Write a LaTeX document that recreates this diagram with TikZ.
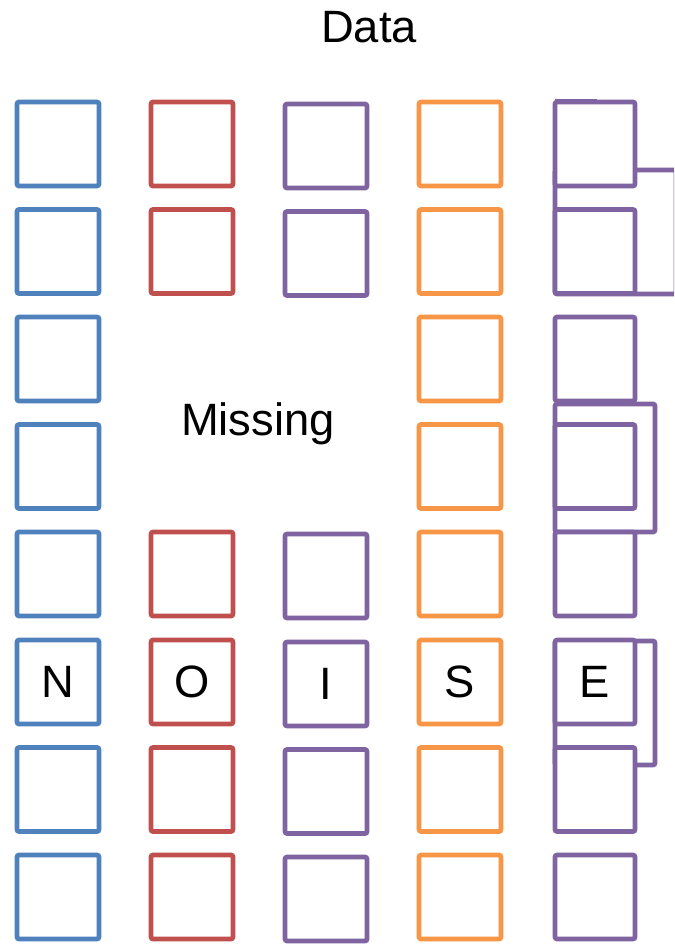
\documentclass[tikz,border=0pt]{standalone}
\usepackage{fontspec}
\setmainfont{Liberation Sans}
\usepackage{tikz}

\definecolor{cblue}{HTML}{4F81BD}
\definecolor{cred}{HTML}{C0504D}
\definecolor{cpurple}{HTML}{8064A2}
\definecolor{corange}{HTML}{F79646}

\tikzset{
  cell/.style={draw=#1, fill=white, line width=3.5pt, rounded corners=1.5pt, inner sep=0pt,
    minimum width=61.5pt, minimum height=63pt, font=\fontsize{34}{40}\selectfont},
  lastcell/.style={cell=cpurple, minimum width=60pt},
  bracket/.style={draw=cpurple, line width=3.5pt, rounded corners=1.5pt},
  label/.style={font=\fontsize{34}{40}\selectfont, inner sep=0pt},
}

\begin{document}
\begin{tikzpicture}[x=0.75pt, y=-0.75pt]
\clip (0,0) rectangle (674,944);
\fill[white] (0,0) rectangle (674,944);

% title
\node[label, anchor=base] (data) at (369,43) {Data};

% brackets of the last column (behind the cells)
\draw[bracket] (555,170) rectangle (676,294);
\draw[bracket] (555,404) rectangle (655,532);
\draw[bracket] (555,641) rectangle (655,765);

% columns of cells
\foreach \c/\x/\dy/\col/\txt in {1/58/0/cblue/N, 2/192/0/cred/O, 3/326/2/cpurple/I, 4/460/0/corange/S}{
  \foreach \r/\y in {1/144, 2/251.5, 3/359, 4/466.5, 5/574, 6/682, 7/789.5, 8/897}{
    \ifnum\r=6
      \node[cell=\col] (c\c-\r) at (\x,{\y+\dy}) {\txt};
    \else
      \ifnum\c>1 \ifnum\c<4
        \ifnum\r=3 \else\ifnum\r=4 \else
          \node[cell=\col] (c\c-\r) at (\x,{\y+\dy}) {};
        \fi\fi
      \else
        \node[cell=\col] (c\c-\r) at (\x,{\y+\dy}) {};
      \fi\else
        \node[cell=\col] (c\c-\r) at (\x,{\y+\dy}) {};
      \fi
    \fi
  }
}
\foreach \r/\y in {1/144, 2/251.5, 3/359, 4/466.5, 5/574, 6/682, 7/789.5, 8/897}{
  \ifnum\r=6
    \node[lastcell] (c5-\r) at (595,\y) {E};
  \else
    \node[lastcell] (c5-\r) at (595,\y) {};
  \fi
}

% small overlaps on the last column
\draw[bracket] (555,101) -- (597,101);
\draw[bracket] (555,317) -- (603,317);

% gap in the data
\node[label, anchor=base] (missing) at (258,435) {Missing};
\end{tikzpicture}
\end{document}
